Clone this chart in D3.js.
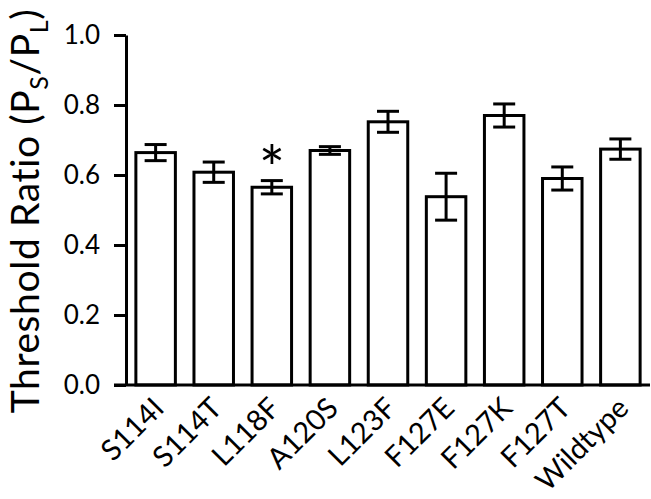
<!DOCTYPE html>
<html>
<head>
<meta charset="utf-8">
<script src="https://cdn.jsdelivr.net/npm/d3@7"></script>
<style>
  body { margin: 0; background: #fff; }
  text { font-family: Lato, "Open Sans", sans-serif; }
</style>
</head>
<body>
<div id="container"></div>
<script>
/* CONSTANTS AND GLOBALS */
const width = 651;
const height = 499;
const margin = { top: 35, right: 1, bottom: 114, left: 126 };

/* DATA */
const mutants = ["S114I", "S114T", "L118F", "A120S", "L123F", "F127E", "F127K", "F127T", "Wildtype"];
const ratios = [0.664, 0.608, 0.565, 0.670, 0.752, 0.538, 0.770, 0.590, 0.674];
const errors = [0.023, 0.029, 0.019, 0.011, 0.030, 0.067, 0.033, 0.033, 0.029];
const significant = ["L118F"];
const yTicks = [0, 0.2, 0.4, 0.6, 0.8, 1.0];

const data = mutants.map((m, i) => ({ name: m, value: ratios[i], err: errors[i] }));

/* SCALES */
const xScale = d3.scaleBand()
  .domain(mutants)
  .range([margin.left, width - margin.right])
  .paddingInner(0.32)
  .paddingOuter(0.17);

const yScale = d3.scaleLinear()
  .domain([0, 1])
  .range([height - margin.bottom, margin.top]);

/* SVG ELEMENT */
const svg = d3.select("#container")
  .append("svg")
  .attr("width", width)
  .attr("height", height);

/* BARS */
svg.selectAll("rect.bar")
  .data(data)
  .enter()
  .append("rect")
  .attr("class", "bar")
  .attr("x", d => xScale(d.name))
  .attr("y", d => yScale(d.value))
  .attr("width", xScale.bandwidth())
  .attr("height", d => yScale(0) - yScale(d.value))
  .attr("fill", "#fff")
  .attr("stroke", "#000")
  .attr("stroke-width", 3);

/* ERROR BARS */
const capHalf = 11;
const err = svg.selectAll("g.err")
  .data(data)
  .enter()
  .append("g")
  .attr("class", "err")
  .attr("stroke", "#000")
  .attr("stroke-width", 3);

err.append("line")
  .attr("x1", d => xScale(d.name) + xScale.bandwidth() / 2)
  .attr("x2", d => xScale(d.name) + xScale.bandwidth() / 2)
  .attr("y1", d => yScale(d.value + d.err))
  .attr("y2", d => yScale(d.value - d.err));

err.append("line")
  .attr("x1", d => xScale(d.name) + xScale.bandwidth() / 2 - capHalf)
  .attr("x2", d => xScale(d.name) + xScale.bandwidth() / 2 + capHalf)
  .attr("y1", d => yScale(d.value + d.err))
  .attr("y2", d => yScale(d.value + d.err));

err.append("line")
  .attr("x1", d => xScale(d.name) + xScale.bandwidth() / 2 - capHalf)
  .attr("x2", d => xScale(d.name) + xScale.bandwidth() / 2 + capHalf)
  .attr("y1", d => yScale(d.value - d.err))
  .attr("y2", d => yScale(d.value - d.err));

/* SIGNIFICANCE */
svg.selectAll("text.star")
  .data(data.filter(d => significant.includes(d.name)))
  .enter()
  .append("text")
  .attr("class", "star")
  .attr("x", d => xScale(d.name) + xScale.bandwidth() / 2)
  .attr("y", d => yScale(d.value + d.err) + 10)
  .attr("text-anchor", "middle")
  .style("font-size", "62px")
  .text("*");

/* AXIS */
const yAxis = d3.axisLeft(yScale)
  .tickValues(yTicks)
  .tickFormat(d3.format(".1f"))
  .tickSize(12)
  .tickSizeOuter(0)
  .tickPadding(14);

const gy = svg.append("g")
  .attr("transform", `translate(${margin.left}, 0)`)
  .call(yAxis);
gy.selectAll("path, line").attr("stroke", "#000").attr("stroke-width", 3);
gy.selectAll("text").style("font-size", "26px").attr("fill", "#000").attr("font-family", null);

const xAxis = d3.axisBottom(xScale).tickSize(0).tickSizeOuter(0);
const gx = svg.append("g")
  .attr("transform", `translate(0, ${height - margin.bottom})`)
  .call(xAxis);
gx.select(".domain")
  .attr("d", `M${margin.left - 12},0H${width - margin.right}`)
  .attr("stroke", "#000")
  .attr("stroke-width", 3);
gx.selectAll("text")
  .style("font-size", "29px")
  .attr("fill", "#000")
  .attr("font-family", null)
  .attr("text-anchor", "end")
  .attr("dy", null)
  .attr("y", 0)
  .attr("transform", "translate(10, 25) rotate(-45)");

/* AXIS LABEL */
const title = svg.append("text")
  .attr("transform", "translate(39, 211) rotate(-90)")
  .attr("text-anchor", "middle")
  .style("font-size", "39px")
  .style("letter-spacing", "0.6px");
title.append("tspan").text("Threshold Ratio (P");
title.append("tspan").attr("dy", 9).style("font-size", "25px").text("S");
title.append("tspan").attr("dy", -9).text("/P");
title.append("tspan").attr("dy", 9).style("font-size", "25px").text("L");
title.append("tspan").attr("dy", -9).text(")");
</script>
</body>
</html>
